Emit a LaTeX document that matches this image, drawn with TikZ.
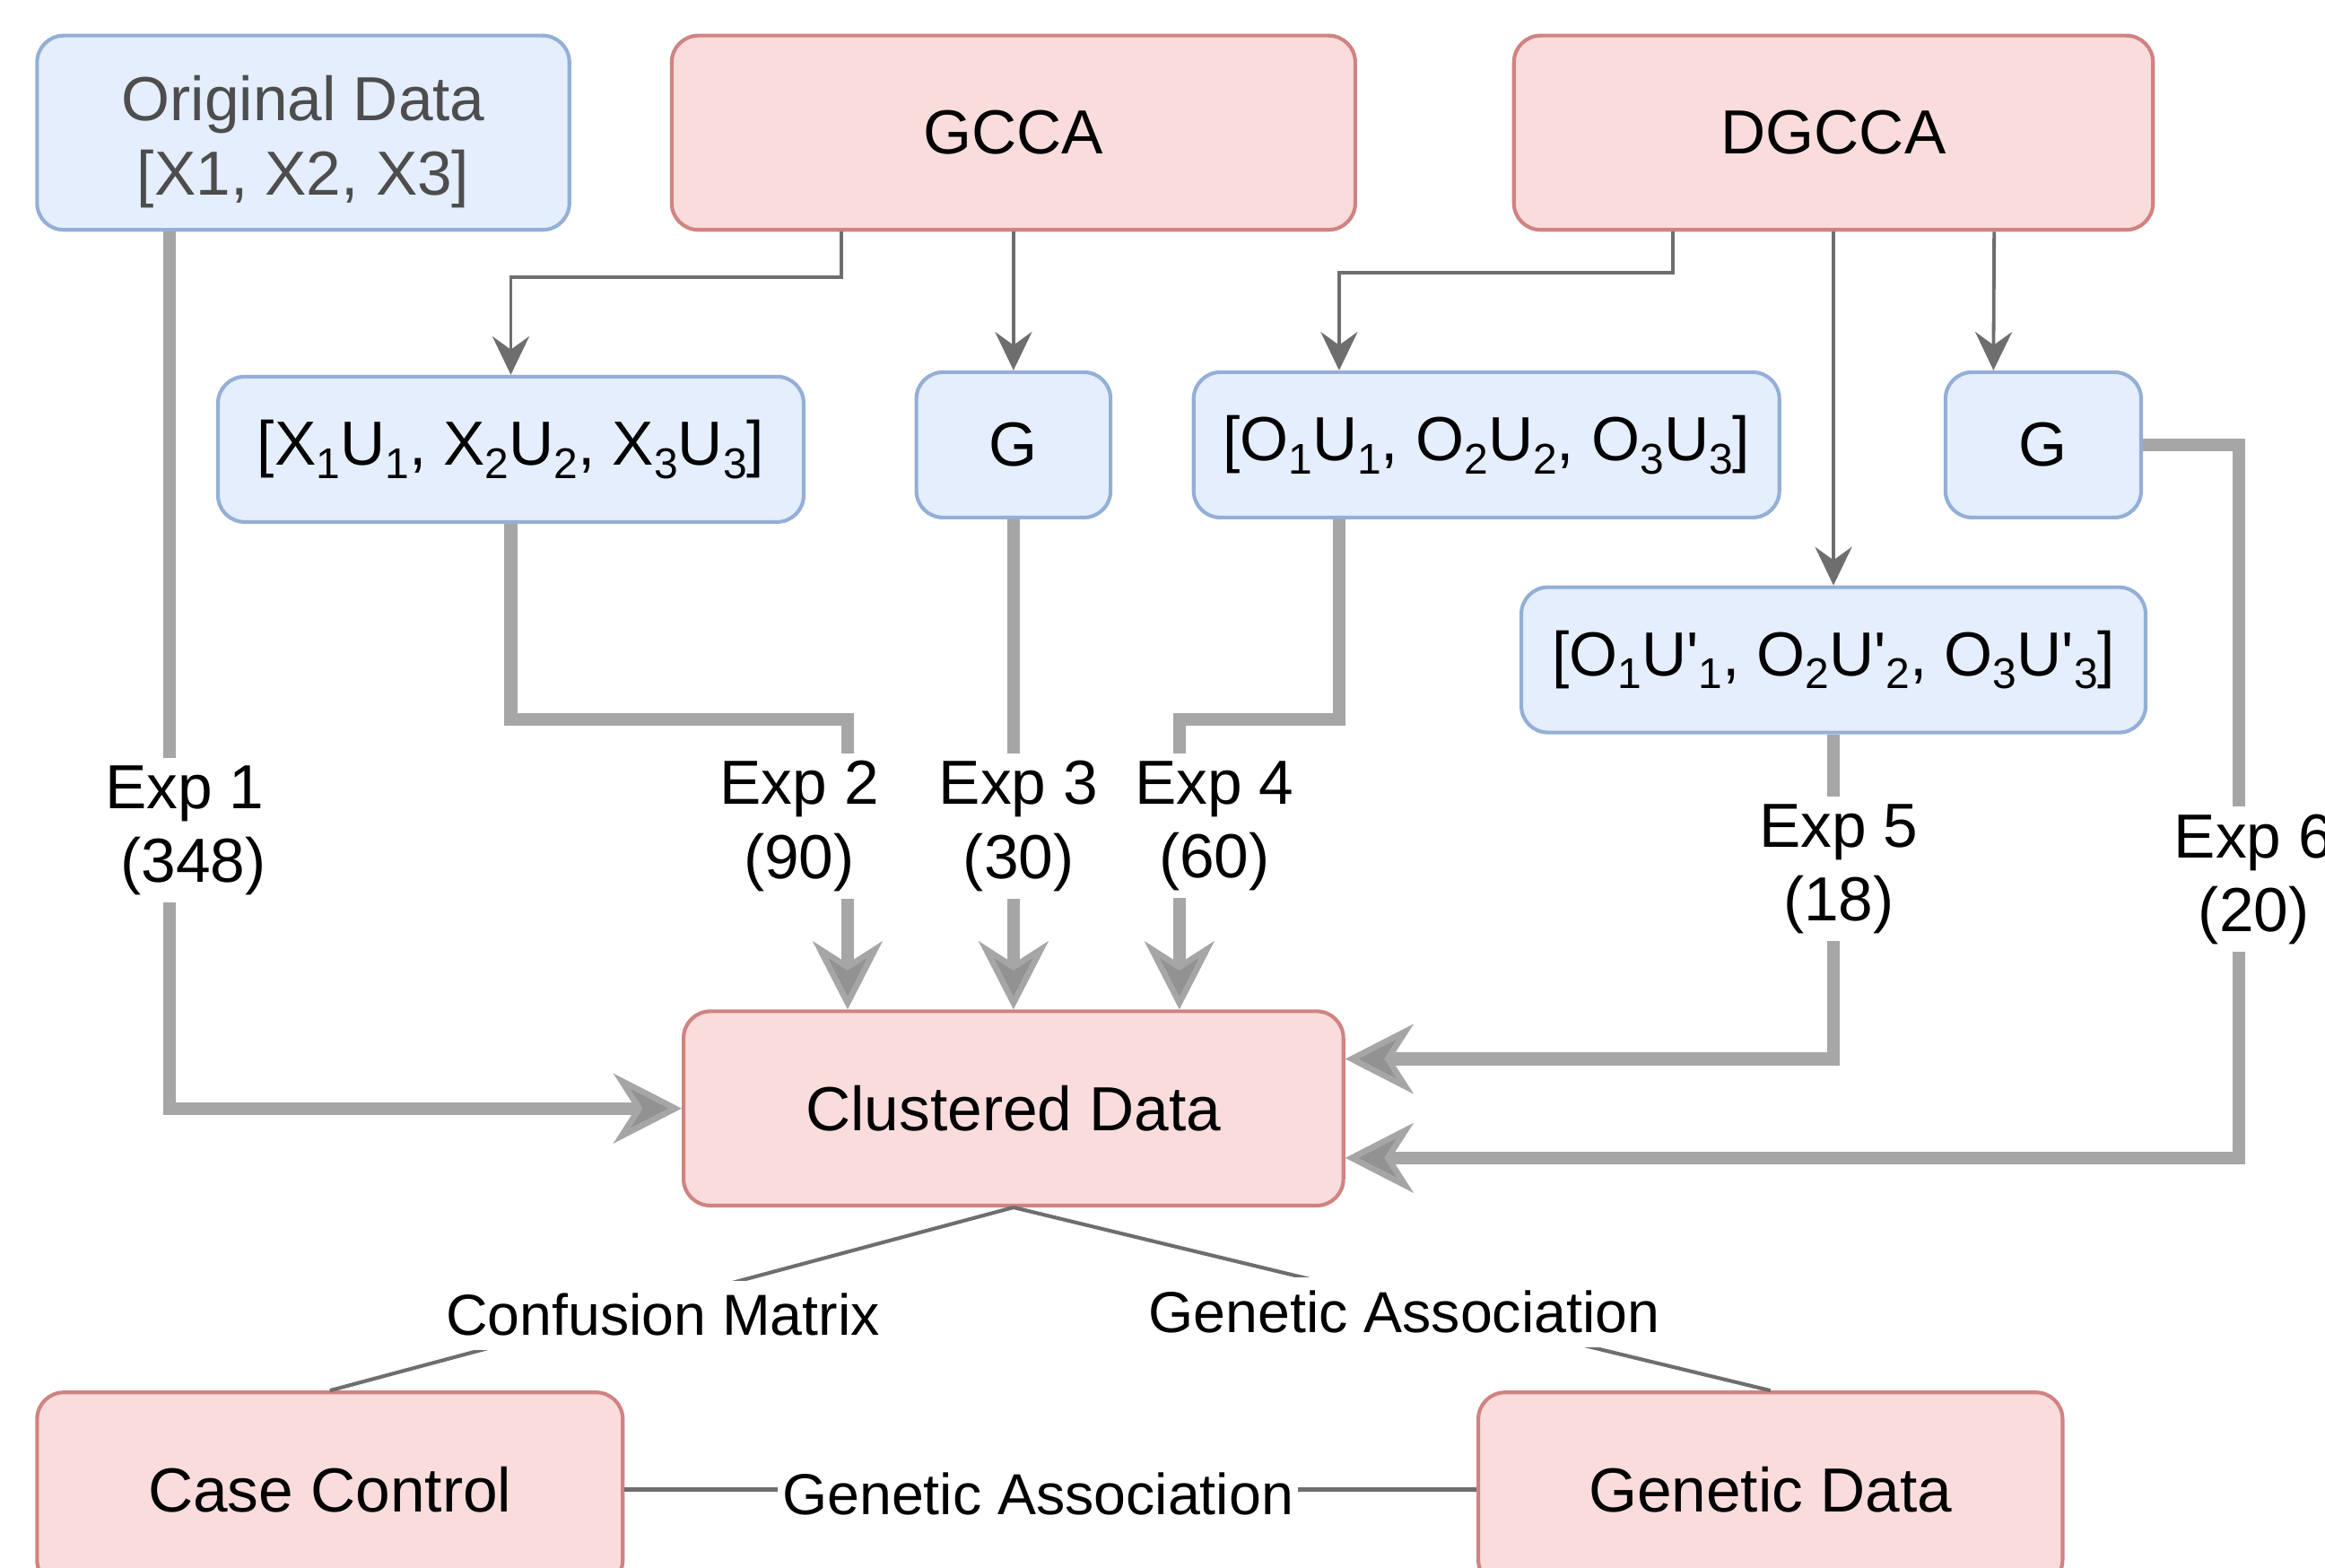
\documentclass[tikz,border=0pt]{standalone}
\usepackage{fontspec}
\setmainfont{Liberation Sans}[Ligatures=TeXOff]
\usetikzlibrary{arrows.meta,calc}

\definecolor{bluefill}{HTML}{E4EEFC}
\definecolor{bluedraw}{HTML}{94AFD6}
\definecolor{redfill}{HTML}{F9DCDB}
\definecolor{reddraw}{HTML}{D08381}
\definecolor{thinline}{HTML}{6E6E6E}
\definecolor{thickline}{HTML}{A6A6A6}
\definecolor{thicktip}{HTML}{929292}
\definecolor{softtext}{HTML}{4D4D4D}

% view index, set large and well below the baseline
\newcommand\idx[1]{\raisebox{-9pt}{\fontsize{29}{29}\selectfont #1}}

\begin{document}
\begin{tikzpicture}[x=1pt,y=-1pt,
  box/.style={rectangle, rounded corners=18pt, line width=2.5pt, inner sep=0pt,
    align=center, font=\fontsize{42}{50}\selectfont},
  bluebox/.style={box, fill=bluefill, draw=bluedraw},
  redbox/.style={box, fill=redfill, draw=reddraw},
  boxsize/.style 2 args={minimum width=#1pt, minimum height=#2pt},
  thinc/.style={draw=thinline, line width=2.3pt,
    -{Stealth[length=26pt, width=25pt, inset=9pt, line width=1pt]}},
  thickc/.style={draw=thickline, line width=8.5pt,
    -{Stealth[length=46pt, width=47pt, inset=15pt, line width=4pt, fill=thicktip, color=thickline]}},
  plainc/.style={draw=thinline, line width=2.5pt},
  elabel/.style={fill=white, inner xsep=3pt, inner ysep=1.7pt, text height=35pt,
    text depth=8.3pt, font=\fontsize{39}{47}\selectfont},
  explabel/.style={fill=white, align=center, inner xsep=3pt, inner ysep=5pt,
    font=\fontsize{42}{50}\selectfont}
]
\useasboundingbox (0,0) rectangle (1568,1057);

% boxes
\node[bluebox, boxsize={359}{131}, text=softtext] (orig) at (204.5,89.5)
  {\rule{0pt}{43pt}Original Data\\{[}X1, X2, X3]};
\node[redbox, boxsize={461}{131}] (gcca) at (683.5,89.5) {GCCA};
\node[redbox, boxsize={431}{131}] (dgcca) at (1236.5,89.5) {DGCCA};
\node[bluebox, boxsize={395}{98}] (xu) at (344.5,303)
  {[X\idx{1}U\idx{1}, X\idx{2}U\idx{2}, X\idx{3}U\idx{3}]};
\node[bluebox, boxsize={131}{98}] (g1) at (683.5,300) {G};
\node[bluebox, boxsize={395}{98}] (ou) at (1002.5,300)
  {[O\idx{1}U\idx{1}, O\idx{2}U\idx{2}, O\idx{3}U\idx{3}]};
\node[bluebox, boxsize={132}{98}] (g2) at (1378,300) {G};
\node[bluebox, boxsize={421}{98}] (oup) at (1236.5,445)
  {[O\idx{1}U'\idx{1}, O\idx{2}U'\idx{2}, O\idx{3}U'\idx{3}]};
\node[redbox, boxsize={445}{131}] (clus) at (683.5,747.5) {Clustered Data};
\node[redbox, boxsize={395}{131}] (cc) at (222.5,1004.5) {Case Control};
\node[redbox, boxsize={394}{131}] (gd) at (1194,1004.5) {Genetic Data};

% attachment points
\coordinate (gq) at ($(gcca.south west)!.25!(gcca.south east)$);
\coordinate (dq1) at ($(dgcca.south west)!.25!(dgcca.south east)$);
\coordinate (dq3) at ($(dgcca.south west)!.75!(dgcca.south east)$);
\coordinate (oin) at ($(ou.north west)!.25!(ou.north east)$);
\coordinate (gin) at ($(g2.north west)!.25!(g2.north east)$);
\coordinate (oq) at ($(orig.south west)!.25!(orig.south east)$);
\coordinate (oout) at ($(ou.south west)!.25!(ou.south east)$);
\coordinate (c1) at ($(clus.north west)!.25!(clus.north east)$);
\coordinate (c3) at ($(clus.north west)!.75!(clus.north east)$);
\coordinate (r1) at ($(clus.north east)!.25!(clus.south east)$);
\coordinate (r3) at ($(clus.north east)!.75!(clus.south east)$);
\coordinate (bendC) at (0,187);
\coordinate (bendD) at (0,184);
\coordinate (bendA) at (0,485);
\coordinate (bendB) at (1510,0);

% method outputs
\draw[thinc] (gq) -- (gq |- bendC) -| (xu.north);
\draw[thinc] (gcca.south) -- (g1.north);
\draw[thinc] (dq1) -- (dq1 |- bendD) -| (oin);
\draw[thinc] (dgcca.south) -- (oup.north);
\draw[thinc] (dq3) -- (gin);

% experiments feeding the clustering
\draw[thickc] (oq) |- (clus.west);
\draw[thickc] (xu.south) |- (bendA -| c1) -- (c1);
\draw[thickc] (g1.south) -- (clus.north);
\draw[thickc] (oout) |- (bendA -| c3) -- (c3);
\draw[thickc] (oup.south) |- (r1);
\draw[thickc] (g2.east) -- (g2.east -| bendB) |- (r3);

\node[explabel] (e1) at (124.5,560) {Exp 1\\~(348)};
\node[explabel] (e2) at (539,557) {Exp 2\\(90)};
\node[explabel] (e3) at (687,557) {Exp 3\\(30)};
\node[explabel] (e4) at (819,557) {Exp 4\\(60)};
\node[explabel] (e5) at (1240,586) {Exp 5\\(18)};
\node[explabel] (e6) at (1520,593) {Exp 6\\(20)};

% evaluation
\draw[plainc] (clus.south) -- (cc.north);
\draw[plainc] (clus.south) -- (gd.north);
\draw[plainc] (cc.east) -- (gd.west);
\node[elabel] (lcm) at (447,887) {Confusion Matrix};
\node[elabel] (lga1) at (947,885) {Genetic Association};
\node[elabel] (lga2) at (700,1008) {Genetic Association};
\end{tikzpicture}
\end{document}
